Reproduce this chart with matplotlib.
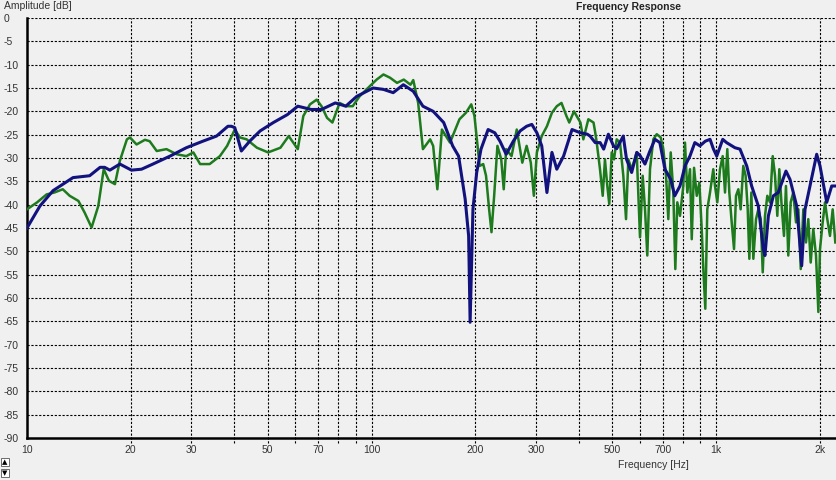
import numpy as np
import matplotlib
matplotlib.use("Agg")
import matplotlib.pyplot as plt

plt.rcParams['font.family'] = ['Liberation Sans', 'DejaVu Sans']

# blue trace (Hz, dB)
blue_f = [10, 10.9, 11.9, 13.6, 15.2, 16.3, 16.8, 17.4, 18.6, 20.1, 21.5, 23.2, 26.0, 29.0,
          32.4, 35.5, 38.3, 39.2, 40.1, 41.9, 44.3, 47.5, 51.9, 57.0, 61.1, 66.8, 71.6, 78.5,
          84.2, 90.6, 101.1, 108.3, 115.6, 123.7, 132.2, 141, 151, 162, 172, 179, 187, 191.4,
          193.3, 197, 202, 207.9, 218, 228, 236, 246, 258, 270, 282, 292, 302, 312, 323, 334,
          345, 361, 382, 404, 423, 431, 446, 461, 472, 487, 504, 515, 538, 550, 569, 589, 602,
          622, 643, 665, 687, 711, 739, 759, 786, 813, 840, 868, 898, 931, 961, 982, 1005, 1046,
          1073, 1135, 1174, 1228, 1269, 1327, 1372, 1387, 1419, 1467, 1516, 1596, 1640, 1715,
          1773, 1813, 1874, 1960, 2004, 2096, 2167, 2230]
blue_db = [-45, -40.3, -37, -34.2, -33.8, -32, -32, -32.6, -31.3, -32.6, -32.4, -31.3, -29.6, -27.8,
           -26.4, -25.3, -23.2, -23.2, -23.5, -28.5, -26.4, -24.2, -22.4, -20.7, -18.9, -19.6, -19.6, -18.2,
           -18.9, -16.8, -15, -15.3, -16, -14.3, -15.7, -18.9, -20, -22.4, -27.4, -29.6, -38.8, -46.7,
           -65.2, -41, -33.1, -28.1, -23.9, -24.6, -26.4, -29.2, -26.4, -24.2, -23.2, -22.8, -24.6, -27.4, -37.4, -28.8,
           -32.4, -29.6, -23.9, -24.6, -24.9, -25.3, -26.7, -26.7, -28.1, -24.9, -27.4, -28, -25.3, -30.3, -33.1, -28.8, -29.5,
           -31.3, -28.5, -26, -26.7, -32.4, -34.6, -38.1, -36, -31.7, -29.6, -26.7, -27.4, -26.4, -26, -28, -29.6, -26,
           -26.7, -27.8, -28.1, -31.7, -36, -40.3, -49.5, -50.9, -42.4, -38.1, -37.4, -32.8, -34.6, -40.3,
           -53.1, -41, -36, -29.2, -31.7, -39.5, -36, -36]

# green trace (Hz, dB)
green_f = [10, 10.7, 11.4, 12.0, 12.7, 13.3, 14.1, 14.7, 15.4, 16.1, 16.7, 17.3, 18.0, 18.6, 19.5,
           19.9, 20.8, 22.0, 22.7, 23.8, 25.4, 27.2, 29.0, 30.4, 31.8, 33.9, 36.3, 38.1, 40.1, 41.5,
           43.4, 46.5, 50.1, 54.4, 57.5, 61.1, 63.4, 66.3, 69.3, 71.6, 74.3, 77.0, 80.8, 84.4, 88.2,
           92.3, 98.9, 103.5, 108.3, 113.2, 118.6, 124.1, 129.8, 132.2, 136.6, 141, 148, 151, 155.3,
           160.1, 169, 180, 188, 194.8, 199, 204, 206, 211, 215, 219.5, 223, 227, 232, 238, 242, 246,
           255, 264, 274, 282, 290, 296, 302, 312, 323, 334, 345, 356, 368, 375, 387, 404, 412, 426,
           441, 446, 450.6, 460.5, 469, 476, 483.6, 490, 498, 505.7, 514.9, 526.4, 538.2, 548, 556.5,
           569.3, 588.6, 601.7, 612.6, 622.2, 631.8, 643.3, 657.7, 672.9, 691.1, 703.1, 716, 727,
           738.8, 751.8, 761.9, 772.1, 786.1, 803.6, 812.8, 825.5, 840.5, 850.3, 863.5, 879.3, 894.7,
           908.9, 918.6, 931, 943.4, 960.7, 982, 993.3, 1008.8, 1027, 1045.7, 1062, 1078.5, 1093,
           1110.6, 1128, 1143, 1161, 1179, 1200, 1219, 1236, 1249.6, 1266.5, 1283.5, 1306.7, 1327,
           1348.5, 1366.6, 1387.5, 1409, 1434.6, 1460.8, 1483.5, 1506.5, 1526.7, 1551, 1575, 1596,
           1621, 1647, 1676, 1707, 1734, 1762, 1792.6, 1825, 1853, 1883, 1916, 1951, 1982, 2004,
           2040, 2072, 2104, 2142, 2181, 2220]
green_db = [-41, -39.5, -37.8, -37.4, -36.7, -38.1, -39.2, -41.7, -44.9, -40.3, -32.4, -34.9, -35.6, -30.6, -26,
            -25.6, -27.1, -26.1, -26.4, -28.5, -28.1, -29.2, -29.6, -28.8, -31.3, -31.3, -29.6, -27.4, -23.9, -25.6,
            -26, -27.8, -28.8, -27.8, -25.3, -28.1, -21, -18.5, -17.5, -18.9, -21.4, -22.4, -18.2, -18.9, -18.9,
            -16.8, -14.6, -13.2, -12.1, -12.8, -13.9, -13.2, -14.3, -13.3, -18.2, -28.1, -26, -27.4, -36.7,
            -23.9, -26.7, -21.7, -20.3, -18.5, -21, -28.8, -31.7, -31.3, -33.8, -41, -45.9, -38.1, -27.4, -30.3, -36.7, -28.1,
            -29.6, -23.9, -31, -27.4, -31, -38.1, -28.8, -25.3, -23.2, -20.3, -18.9, -18.2, -21, -22.4, -20, -22.4, -26, -21.7,
            -22.4, -24.5, -26.7, -32.4, -38.1, -30.3, -36, -39.9, -28.8, -30.3, -26, -26.7, -33.8, -43.1, -30.3,
            -32.4, -28.8, -47, -33.8, -41, -50.9, -32.4, -26, -24.9, -25.6, -28.1, -33.8, -43.1,
            -28.8, -37.4, -53.8, -39.5, -42.4, -36, -26.7, -37.4, -32.4, -47.4, -32.1, -38.1, -35.3,
            -45.2, -53.8, -62.3, -41, -37.4, -32.4, -36, -39.5, -32.4, -29.6, -37.4, -28.1, -37.4,
            -43.8, -49.5, -38.1, -36.7, -41, -31.7, -33.8, -41, -51.6, -37.4, -51.6, -43.1, -41,
            -43.1, -54.5, -42.4, -38.1, -39.5, -29.6, -33.8, -42.4, -32.4, -40.3, -46.7, -36,
            -50.9, -39.5, -37.4, -43.8, -41, -53.8, -41, -48.1, -43.1, -52.4, -45.2, -50.9, -63, -49.5,
            -43.8, -39.5, -43.1, -46.7, -41, -48.1]

x_ticks = [20, 30, 40, 50, 60, 70, 80, 90, 100, 200, 300, 400, 500, 600, 700, 800, 900, 1000, 2000]
x_labels = {10: "10", 20: "20", 30: "30", 50: "50", 70: "70", 100: "100", 200: "200",
            300: "300", 500: "500", 700: "700", 1000: "1k", 2000: "2k"}
y_ticks = list(range(0, -95, -5))

bg = "#f0f0f0"
fig = plt.figure(figsize=(8.36, 4.8), dpi=100, facecolor=bg)
ax = fig.add_axes([27 / 836, 42 / 480, 809 / 836, 420 / 480], facecolor=bg)

ax.set_xscale("log")
ax.set_xlim(10, 2230)
ax.set_ylim(-90, 0)

# dashed grid, vertical lines poke a little below the axis
for f in x_ticks:
    ax.plot([f, f], [-91.1, 0], color="black", lw=0.8, ls=(0, (2, 1.5)), clip_on=False, zorder=1)
for y in y_ticks[:-1]:
    ax.axhline(y, color="black", lw=0.8, ls=(0, (2, 1.5)), zorder=1)

ax.plot(green_f, green_db, color="#1d7a1d", lw=1.8, zorder=3)
ax.plot(blue_f, blue_db, color="#12127f", lw=2.2, zorder=4)

for s in ["top", "right"]:
    ax.spines[s].set_visible(False)
for s in ["left", "bottom"]:
    ax.spines[s].set_linewidth(1.8)
    ax.spines[s].set_color("black")

ax.xaxis.set_major_locator(plt.FixedLocator(list(x_labels.keys())))
ax.xaxis.set_minor_locator(plt.NullLocator())
ax.set_xticklabels(list(x_labels.values()))
ax.set_yticks(y_ticks)
ax.set_yticklabels([str(v) for v in y_ticks])
ax.tick_params(axis="both", length=0, labelsize=7.5, colors="#333333")
ax.tick_params(axis="x", pad=5)
ax.tick_params(axis="y", pad=17)
for lbl in ax.get_yticklabels():
    lbl.set_horizontalalignment("left")

fig.text(4 / 836, 1 - 6 / 480, "Amplitude [dB]", fontsize=7.5, color="#333333", va="center", ha="left")
fig.text(628 / 836, 1 - 7 / 480, "Frequency Response", fontsize=7.5, fontweight="bold", color="#222222",
         va="center", ha="center")
fig.text(653 / 836, 1 - 465 / 480, "Frequency [Hz]", fontsize=7.5, color="#333333", va="center", ha="center")

# small scroll arrows bottom left
fig.text(5 / 836, 1 - 462 / 480, "▲", fontsize=5, ha="center", va="center",
         family="DejaVu Sans", bbox=dict(boxstyle="square,pad=0.15", fc="white", ec="#555555", lw=0.6))
fig.text(5 / 836, 1 - 473 / 480, "▼", fontsize=5, ha="center", va="center",
         family="DejaVu Sans", bbox=dict(boxstyle="square,pad=0.15", fc="white", ec="#555555", lw=0.6))

fig.savefig("out.png", dpi=100, facecolor=bg)
